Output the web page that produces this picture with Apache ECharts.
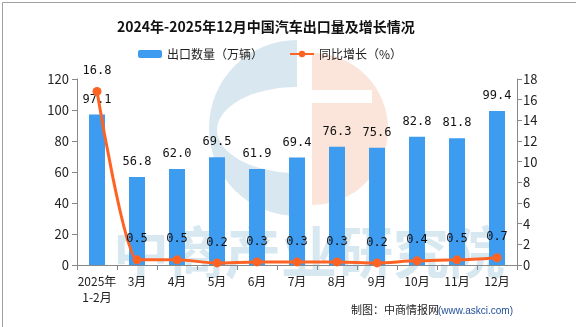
<!DOCTYPE html>
<html><head><meta charset="utf-8">
<script src="https://cdn.jsdelivr.net/npm/echarts@6/dist/echarts.min.js"></script>
<style>html,body{margin:0;padding:0;background:#fff}#c{width:576px;height:327px}</style>
</head><body><div id="c"></div>
<script>
const categories = ['2025年\n1-2月','3月','4月','5月','6月','7月','8月','9月','10月','11月','12月'];
const exportVolume = [97.1,56.8,62.0,69.5,61.9,69.4,76.3,75.6,82.8,81.8,99.4];
const yoyGrowth = [16.8,0.5,0.5,0.2,0.3,0.3,0.3,0.2,0.4,0.5,0.7];
const leftTicks = {min:0,max:120,interval:20};
const rightTicks = {min:0,max:18,interval:2};

const font = '"Noto Sans CJK SC","DejaVu Sans",sans-serif';
const chart = echarts.init(document.getElementById('c'));
chart.setOption({
  animation:false,
  backgroundColor:'#fff',
  title:{text:'2024年-2025年12月中国汽车出口量及增长情况',left:112,top:15,
    textStyle:{fontSize:14,fontWeight:'bold',color:'#111',fontFamily:font}},
  legend:{top:43,left:133,itemGap:26,itemWidth:24,itemHeight:8,
    textStyle:{fontSize:12,color:'#222',fontFamily:font}},
  graphic:[
    {type:'rect',left:0,top:0,z:100,shape:{x:0.5,y:0.5,width:575,height:326},style:{fill:'none',stroke:'#a0a0a0',lineWidth:1},silent:true},
    {type:'sector',z:-10,shape:{cx:297,cy:128,r:88,r0:0,startAngle:Math.PI/2,endAngle:Math.PI*1.5},style:{fill:'#d8e7f0'},silent:true},
    {type:'ellipse',z:-9,shape:{cx:297,cy:130,rx:80,ry:43},style:{fill:'#fff'},silent:true},
    {type:'sector',z:-8,shape:{cx:312,cy:129,r:76,r0:0,startAngle:-Math.PI/2,endAngle:Math.PI/2},style:{fill:'#fbe4d9'},silent:true},
    {type:'rect',z:-7,shape:{x:312,y:90,width:60,height:13},style:{fill:'#fff'},silent:true},
    {type:'text',z:-6,left:113,top:224,style:{text:'中商产业研究院',fontSize:56,fontWeight:'bold',fill:'#d8e8f1',fontFamily:font},silent:true},
    {type:'text',left:351,top:304,style:{text:'制图：中商情报网',fontSize:11,fill:'#222',fontFamily:font},silent:true},
    {type:'text',left:438,top:306,style:{text:'(www.askci.com)',fontSize:10,fill:'#1f4e9a',fontFamily:'"Liberation Sans",sans-serif'},silent:true}
  ],
  grid:{left:77,right:59,top:79,bottom:62},
  xAxis:{type:'category',data:categories,
    axisLine:{lineStyle:{color:'#888'}},
    axisTick:{show:true,length:5,lineStyle:{color:'#888'}},
    axisLabel:{fontSize:12,color:'#222',fontFamily:font,interval:0,lineHeight:16,margin:8}},
  yAxis:[
    {type:'value',min:leftTicks.min,max:leftTicks.max,interval:leftTicks.interval,
      axisLine:{show:true,lineStyle:{color:'#888'}},axisTick:{show:true,length:5,lineStyle:{color:'#888'}},
      splitLine:{show:false},axisLabel:{fontSize:13,color:'#222',fontFamily:font,margin:8}},
    {type:'value',min:rightTicks.min,max:rightTicks.max,interval:rightTicks.interval,
      axisLine:{show:true,lineStyle:{color:'#888'}},axisTick:{show:true,length:5,lineStyle:{color:'#888'}},
      splitLine:{show:false},axisLabel:{fontSize:13,color:'#222',fontFamily:font,margin:6}}
  ],
  series:[
    {name:'出口数量（万辆）',type:'bar',data:exportVolume,barWidth:16,yAxisIndex:0,
      itemStyle:{color:'#3d9cf0'},
      label:{show:true,position:'top',distance:9,formatter:p=>p.value.toFixed(1),fontSize:12,color:'#111',fontFamily:'"DejaVu Sans Mono",monospace'}},
    {name:'同比增长（%）',type:'line',data:yoyGrowth,yAxisIndex:1,smooth:0.3,smoothMonotone:'x',
      symbol:'circle',symbolSize:9,
      lineStyle:{color:'#ff6324',width:3},itemStyle:{color:'#ff6324'},
      label:{show:true,position:'top',distance:10,formatter:p=>p.value.toFixed(1),fontSize:12,color:'#111',fontFamily:'"DejaVu Sans Mono",monospace'}}
  ]
});
</script></body></html>
